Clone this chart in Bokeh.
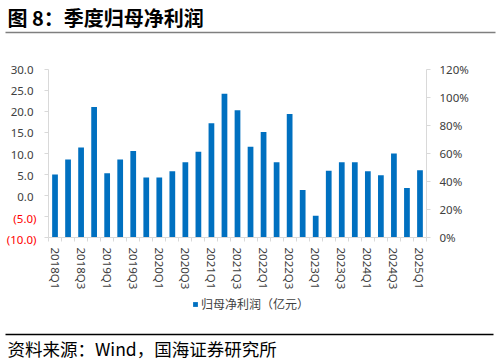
from bokeh.plotting import figure
from bokeh.models import (Range1d, LinearAxis, FixedTicker, NumeralTickFormatter,
                          Legend, LegendItem, ColumnDataSource)
from bokeh.layouts import column, row
from bokeh.embed import file_html
from bokeh.resources import INLINE
from bokeh.core.properties import value

# ---------------- data ----------------
quarters = ["2018Q1", "2018Q2", "2018Q3", "2018Q4",
            "2019Q1", "2019Q2", "2019Q3", "2019Q4",
            "2020Q1", "2020Q2", "2020Q3", "2020Q4",
            "2021Q1", "2021Q2", "2021Q3", "2021Q4",
            "2022Q1", "2022Q2", "2022Q3", "2022Q4",
            "2023Q1", "2023Q2", "2023Q3", "2023Q4",
            "2024Q1", "2024Q2", "2024Q3", "2024Q4",
            "2025Q1"]
profit = [5.0, 8.6, 11.4, 21.1,
          5.3, 8.6, 10.6, 4.3,
          4.3, 5.8, 7.9, 10.4,
          17.2, 24.2, 20.3, 11.6,
          15.1, 7.9, 19.4, 1.3,
          -4.8, 5.9, 7.9, 7.9,
          5.8, 4.8, 10.0, 1.8,
          6.0]
left_ticks = [-10, -5, 0, 5, 10, 15, 20, 25, 30]
right_ticks = [0, 0.2, 0.4, 0.6, 0.8, 1.0, 1.2]
series_name = "归母净利润（亿元）"
title_text = "图 8：季度归母净利润"
source_text = "资料来源：Wind，国海证券研究所"

CJK = "Noto Sans CJK SC"
NUM = "Noto Sans"
BLUE = "#0070C0"
AXIS = "#D9D9D9"
LABEL = "#404040"
W = 498
LW = 44            # width of the left tick-label strip
MAIN_H = 247
B_TOP, B_BOT = 24, 53
FRAME_H = MAIN_H - B_TOP - B_BOT
BAR_W = 0.44

n = len(quarters)
y_lo, y_hi = left_ticks[0], left_ticks[-1]


def blank(width, height, **kw):
    fig = figure(width=width, height=height, output_backend="svg", toolbar_location=None,
                 x_axis_type=None, y_axis_type=None, frame_align=False, min_border=0, **kw)
    fig.grid.visible = False
    fig.outline_line_color = None
    return fig


# ---------------- title strip ----------------
t = blank(W, 45, x_range=Range1d(0, W), y_range=Range1d(45, 0))
t.text(x=[7], y=[16.5], text=[title_text], text_font=value(CJK), text_font_style="bold",
       text_font_size="20px", text_baseline="middle", text_color="#000000")
t.segment(x0=[5], y0=[32], x1=[495], y1=[32], line_color="#7F7F7F", line_width=1.5)

# ---------------- main chart ----------------
p = figure(width=W - LW, height=MAIN_H, x_range=Range1d(-0.5, n - 0.5),
           y_range=Range1d(y_lo, y_hi),
           output_backend="svg", toolbar_location=None, frame_align=False,
           min_border_left=4, min_border_right=72, min_border_top=B_TOP, min_border_bottom=B_BOT)
p.grid.visible = False
p.outline_line_color = None

src = ColumnDataSource(dict(x=list(range(n)), top=profit, bottom=[y_lo] * n))
r = p.vbar(x="x", top="top", bottom="bottom", width=BAR_W, fill_color=BLUE, line_color=None, source=src)

xa = p.xaxis[0]
xa.ticker = FixedTicker(ticks=list(range(0, n, 2)), minor_ticks=[i - 0.5 for i in range(n + 1)])
xa.major_label_overrides = {i: quarters[i] for i in range(0, n, 2)}
xa.major_label_orientation = "vertical"
xa.major_tick_line_color = None
xa.major_tick_in = 0
xa.major_tick_out = 4
xa.minor_tick_line_color = AXIS
xa.minor_tick_in = 0
xa.minor_tick_out = 4
xa.axis_line_color = AXIS
xa.major_label_standoff = 6
xa.major_label_text_font = NUM
xa.major_label_text_font_size = "11.5px"
xa.major_label_text_color = LABEL

ya = p.yaxis[0]
ya.ticker = FixedTicker(ticks=left_ticks)
ya.major_label_overrides = {tk: "" for tk in left_ticks}
ya.minor_tick_line_color = None
ya.major_tick_in = 0
ya.major_tick_out = 4
ya.major_tick_line_color = AXIS
ya.axis_line_color = AXIS
ya.major_label_standoff = 0
ya.major_label_text_font_size = "1px"

p.extra_y_ranges = {"pct": Range1d(right_ticks[0], right_ticks[-1])}
ra = LinearAxis(y_range_name="pct", ticker=FixedTicker(ticks=right_ticks),
                formatter=NumeralTickFormatter(format="0%"))
ra.minor_tick_line_color = None
ra.major_tick_in = 0
ra.major_tick_out = 4
ra.major_tick_line_color = AXIS
ra.axis_line_color = AXIS
ra.major_label_standoff = 9
ra.major_label_text_font = NUM
ra.major_label_text_font_size = "11.5px"
ra.major_label_text_color = LABEL
p.add_layout(ra, "right")

# ---------------- left tick-label strip (same scale as the main y axis) ----------------
px_per_unit = FRAME_H / (y_hi - y_lo)
lf = blank(LW, MAIN_H, x_range=Range1d(0, LW),
           y_range=Range1d(y_lo - B_BOT / px_per_unit, y_hi + B_TOP / px_per_unit))
lab_src = ColumnDataSource(dict(
    y=left_ticks,
    text=[("(%.1f)" % abs(tk)) if tk < 0 else ("%.1f" % tk) for tk in left_ticks],
    x=[LW - 8 if tk < 0 else LW - 11 for tk in left_ticks],
    color=["#FF0000" if tk < 0 else LABEL for tk in left_ticks],
))
lf.text(x="x", y="y", text="text", text_color="color", source=lab_src,
        text_align="right", text_baseline="middle",
        text_font=value(NUM), text_font_size="11.5px")

# ---------------- legend strip ----------------
LG_H = 28
lg = blank(W, LG_H, x_range=Range1d(0, 1), y_range=Range1d(0, 1))
# zero-width proxy of the same series: it draws nothing, it only feeds the legend swatch
proxy = lg.vbar(x="x", top="top", bottom="bottom", width=0, fill_color=BLUE,
                line_color=None, source=src)
legend = Legend(items=[LegendItem(label=series_name, renderers=[proxy])], location=(192, 8),
                orientation="horizontal", padding=0, margin=0, spacing=0,
                glyph_width=6, glyph_height=6, label_standoff=3, label_height=14,
                label_text_font=CJK, label_text_font_size="12px", label_text_color=LABEL,
                background_fill_alpha=0, border_line_color=None)
lg.add_layout(legend)

# ---------------- footer strip ----------------
f = blank(W, 42, x_range=Range1d(0, W), y_range=Range1d(42, 0))
f.segment(x0=[5], y0=[14], x1=[493], y1=[14], line_color="#000000", line_width=1.3)
f.text(x=[7], y=[27.5], text=[source_text], text_font=value(CJK),
       text_font_size="17.5px", text_baseline="middle", text_color="#000000")

layout = column(t, row(lf, p, spacing=0), lg, f, spacing=0)
open("out.html", "w").write(file_html(layout, INLINE))
